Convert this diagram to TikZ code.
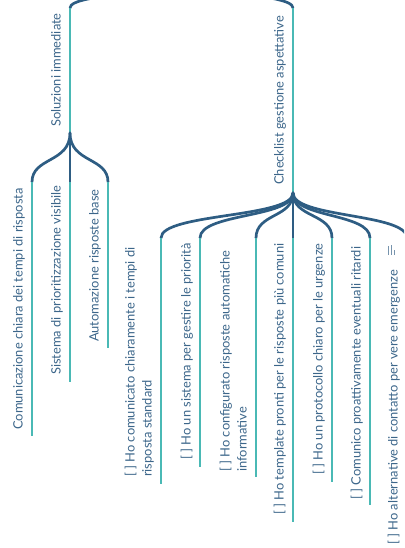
\documentclass[tikz,border=0pt]{standalone}
\usepackage{fontspec}
\setmainfont{Lato}

\definecolor{branchblue}{RGB}{46,93,131}
\definecolor{stemteal}{RGB}{74,185,181}
\definecolor{textblue}{RGB}{60,102,138}

\begin{document}
\begin{tikzpicture}[x=1pt, y=-1pt,
   twig/.style = {draw=branchblue, line width=2.7pt, line cap=round},
   stem/.style = {draw=stemteal, line width=2.8pt},
  topic/.style = {rotate=90, anchor=base west, inner sep=0pt,
                  text=textblue, align=left,
                  font=\fontsize{12.9}{17}\selectfont}
                   ]
\useasboundingbox (0,0) rectangle (404,548);
\clip (0,0) rectangle (404,548);
% root and main topics
\coordinate (root) at (182,-40);
\coordinate (sol)  at (70,8);
\coordinate (solb) at (70,133);
\coordinate (chk)  at (293,8);
\coordinate (chkb) at (293,193);
\draw[twig] (root) .. controls (182,-2) and (70,-8) .. (sol);
\draw[twig] (root) .. controls (182,-2) and (293,-8) .. (chk);
\draw[stem] (sol) -- (solb);
\draw[stem] (chk) -- (chkb);
\node[topic] (tsol) at (60.5,127) {Soluzioni immediate};
\node[topic] (tchk) at (283.5,185) {Checklist gestione aspettative};
% children of Soluzioni immediate
\coordinate (s1) at (32,182);
\coordinate (s2) at (70,182);
\coordinate (s3) at (108,182);
\foreach \c in {s1,s2,s3}
  \draw[twig] (solb) .. controls +(0,30) and +(0,-25) .. (\c);
\draw[stem] (s1) -- (32,436);
\draw[stem] (s2) -- (70,382);
\draw[stem] (s3) -- (108,348);
\node[topic] (ts1) at (22.5,430) {Comunicazione chiara dei tempi di risposta};
\node[topic] (ts2) at (60.5,375) {Sistema di prioritizzazione visibile};
\node[topic] (ts3) at (98.5,342) {Automazione risposte base};
% children of Checklist
\coordinate (k1) at (161,238);
\coordinate (k2) at (200,238);
\coordinate (k3) at (256,238);
\coordinate (k4) at (293,238);
\coordinate (k5) at (332,238);
\coordinate (k6) at (370,238);
\coordinate (k7) at (407,238);
\foreach \c in {k1,k2,k3,k4,k5,k6,k7}
  \draw[twig] (chkb) .. controls +(0,25) and +(0,-25) .. (\c);
\draw[stem] (k1) -- (161,484);
\draw[stem] (k2) -- (200,467);
\draw[stem] (k3) -- (256,477);
\draw[stem] (k4) -- (293,522);
\draw[stem] (k5) -- (332,482);
\draw[stem] (k6) -- (370,505);
\draw[stem] (k7) -- (407,551);
\node[topic] (tk1) at (151.5,477) {[ ] Ho comunicato chiaramente i tempi di\\risposta standard};
\node[topic] (tk2) at (190.5,460) {[ ] Ho un sistema per gestire le priorità};
\node[topic] (tk3) at (246.5,472) {[ ] Ho configurato risposte automatiche\\informative};
\node[topic] (tk4) at (283.5,515) {[ ] Ho template pronti per le risposte più comuni};
\node[topic] (tk5) at (322.5,475) {[ ] Ho un protocollo chiaro per le urgenze};
\node[topic] (tk6) at (360.5,500) {[ ] Comunico proattivamente eventuali ritardi};
\node[topic] (tk7) at (397.5,545) {[ ] Ho alternative di contatto per vere emergenze};
% note icon
\draw[textblue!70, line width=0.8pt] (388,246) -- (388,255) (391,245) -- (391,255) (394.5,250) -- (394.5,255);
\end{tikzpicture}
\end{document}
